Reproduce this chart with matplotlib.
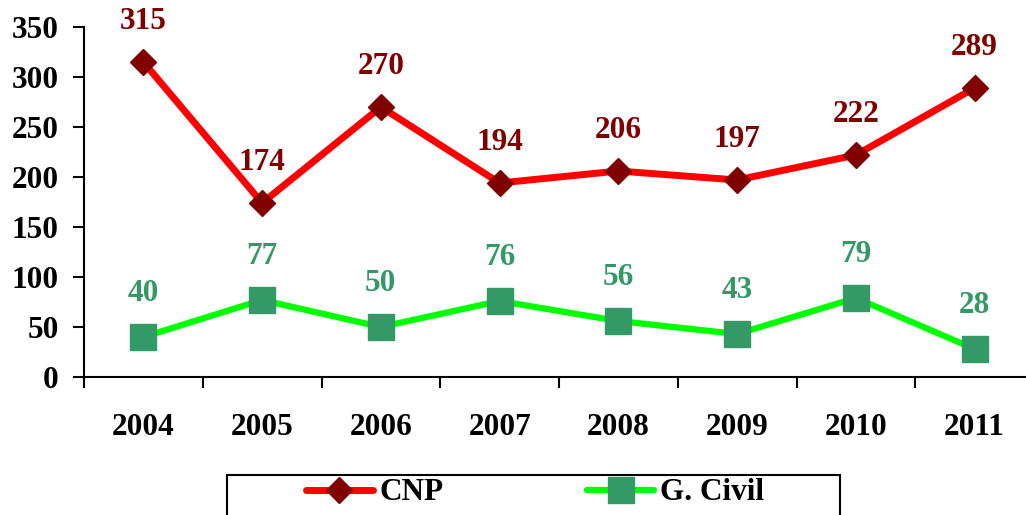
import matplotlib

matplotlib.use("Agg")

import matplotlib.pyplot as plt
import numpy as np
from matplotlib.patches import Rectangle

years = ["2004", "2005", "2006", "2007", "2008", "2009", "2010", "2011"]
cnp = [315, 174, 270, 194, 206, 197, 222, 289]
civil = [40, 77, 50, 76, 56, 43, 79, 28]

plt.rcParams["font.family"] = ["Liberation Serif", "DejaVu Serif"]
plt.rcParams["font.weight"] = "bold"
FS = 22.5

fig = plt.figure(figsize=(10.26, 5.15), dpi=100)
ax = fig.add_axes([84 / 1026, 138 / 515, 950 / 1026, 350 / 515])

x = np.arange(len(years))
ax.plot(x, cnp, color="#FF0000", linewidth=5, marker="D", markersize=13.5,
        markerfacecolor="#800000", markeredgecolor="#800000", label="CNP",
        solid_capstyle="round")
ax.plot(x, civil, color="#00FF00", linewidth=4.5, marker="s", markersize=19,
        markerfacecolor="#339966", markeredgecolor="#339966", label="G. Civil",
        solid_capstyle="round")

for xi, v in zip(x, cnp):
    ax.annotate(str(v), (xi, v), xytext=(0, 29), textcoords="offset points",
                ha="center", va="center", fontsize=FS, fontweight="bold", color="#800000")
for xi, v in zip(x, civil):
    ax.annotate(str(v), (xi, v), xytext=(0, 31), textcoords="offset points",
                ha="center", va="center", fontsize=FS, fontweight="bold", color="#339966")

ax.set_xlim(-0.5, len(years) - 0.5)
ax.set_ylim(0, 350)
ax.set_yticks(range(0, 351, 50))
ax.set_xticks(np.arange(len(years) + 1) - 0.5)
ax.set_xticklabels([])
ax.set_xticks(x, minor=True)
ax.set_xticklabels(years, minor=True)

ax.tick_params(axis="y", length=8, width=1.5, pad=10, labelsize=FS)
ax.tick_params(axis="x", which="major", length=8, width=1.5, direction="out")
ax.tick_params(axis="x", which="minor", length=0, pad=26, labelsize=FS)
for lab in ax.get_yticklabels() + ax.get_xticklabels(minor=True):
    lab.set_fontweight("bold")

for side in ("top", "right"):
    ax.spines[side].set_visible(False)
for side in ("left", "bottom"):
    ax.spines[side].set_linewidth(1.5)

leg = fig.legend(loc="center", bbox_to_anchor=(535 / 1026, 22 / 515), ncol=2,
                 frameon=False, handlelength=2.15, handletextpad=0.2,
                 columnspacing=4.6, prop={"size": FS, "weight": "bold"})

fig.patches.append(Rectangle((227 / 1026, -0.05), 613 / 1026, 0.05 + 40 / 515,
                             transform=fig.transFigure, fill=False,
                             edgecolor="black", linewidth=1.5))

fig.savefig("out.png", dpi=100)
